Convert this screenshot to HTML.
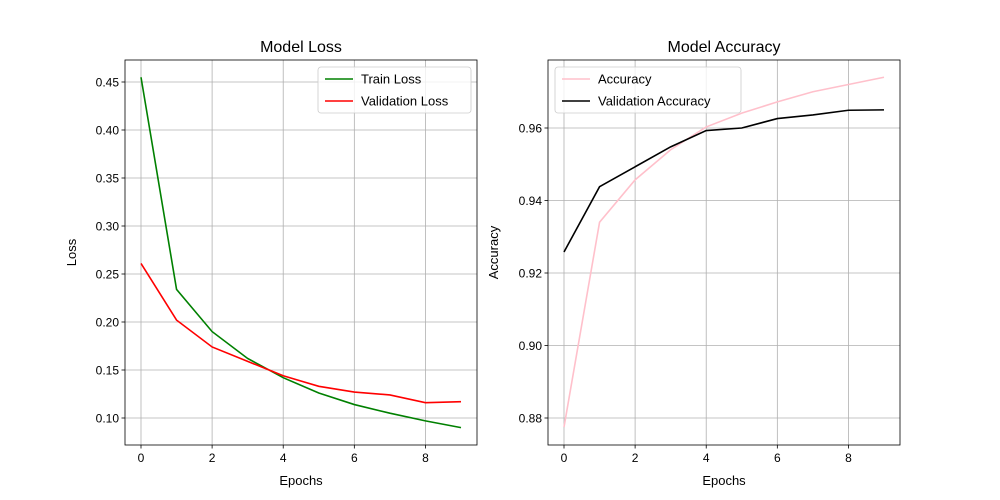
<!DOCTYPE html>
<html><head><meta charset="utf-8"><style>
body{margin:0;background:#fff;}
svg{display:block;font-family:"Liberation Sans","DejaVu Sans",sans-serif;}
</style></head><body>
<svg id="fig" width="1000" height="500" viewBox="0 0 1000 500"></svg>
<script>
const epochs=[0,1,2,3,4,5,6,7,8,9];
const trainLoss=[0.455,0.234,0.190,0.162,0.142,0.126,0.114,0.105,0.097,0.090];
const valLoss=[0.261,0.202,0.174,0.159,0.144,0.133,0.127,0.124,0.116,0.117];
const trainAcc=[0.8775,0.934,0.9457,0.954,0.9603,0.9641,0.9672,0.970,0.972,0.974];
const valAcc=[0.9258,0.9438,0.9493,0.9548,0.9593,0.960,0.9626,0.9636,0.9649,0.965];
const xTicks=[0,2,4,6,8];
const lossTicks=[0.10,0.15,0.20,0.25,0.30,0.35,0.40,0.45];
const accTicks=[0.88,0.90,0.92,0.94,0.96];
const NS="http://www.w3.org/2000/svg";
const svg=document.getElementById('fig');
function mk(tag,attrs,parent){const e=document.createElementNS(NS,tag);for(const k in attrs)e.setAttribute(k,attrs[k]);(parent||svg).appendChild(e);return e;}
function panel(o){
 const g=mk('g',{});
 
 
 const X=v=>o.x0+(v-o.xmin)/(o.xmax-o.xmin)*(o.x1-o.x0);
 const Y=v=>o.y1-(v-o.ymin)/(o.ymax-o.ymin)*(o.y1-o.y0);
 xTicks.forEach(t=>{
  mk('line',{x1:X(t),x2:X(t),y1:o.y0,y2:o.y1,stroke:'#b0b0b0','stroke-width':0.8},g);
  mk('line',{x1:X(t),x2:X(t),y1:o.y1,y2:o.y1+3.5,stroke:'#000','stroke-width':0.8},g);
  const tx=mk('text',{x:X(t),y:o.y1+17,'font-size':12,'text-anchor':'middle'},g);tx.textContent=t;
  
  
 });
 o.yTicks.forEach(t=>{
  mk('line',{x1:o.x0,x2:o.x1,y1:Y(t),y2:Y(t),stroke:'#b0b0b0','stroke-width':0.8},g);
  mk('line',{x1:o.x0-3.5,x2:o.x0,y1:Y(t),y2:Y(t),stroke:'#000','stroke-width':0.8},g);
  const tx=mk('text',{x:o.x0-6,y:Y(t)+4.5,'font-size':12,'text-anchor':'end'},g);tx.textContent=t.toFixed(2);
  
  
 });
 o.series.forEach(s=>{
  const p=mk('polyline',{points:epochs.map((e,i)=>X(e)+','+Y(s.v[i])).join(' '),fill:'none',stroke:s.c,'stroke-width':1.6},g);
  
  
 });
 mk('rect',{x:o.x0,y:o.y0,width:o.x1-o.x0,height:o.y1-o.y0,fill:'none',stroke:'#000','stroke-width':0.8},g);
 const ti=mk('text',{x:(o.x0+o.x1)/2,y:o.y0-8,'font-size':16,'text-anchor':'middle'},g);ti.textContent=o.title;
 
 
 const xl=mk('text',{x:(o.x0+o.x1)/2,y:485,'font-size':13,'text-anchor':'middle'},g);xl.textContent='Epochs';
 
 
 const yl=mk('text',{x:0,y:0,'font-size':13,'text-anchor':'middle',transform:`translate(${o.ylx},${(o.y0+o.y1)/2}) rotate(-90)`},g);yl.textContent=o.ylabel;
 
 
 const lg=mk('g',{},g);
 
 
 mk('rect',{x:o.lx,y:o.y0+7,width:o.lw,height:46,rx:3,fill:'#fff','fill-opacity':0.8,stroke:'#ccc','stroke-width':0.8},lg);
 o.series.forEach((s,i)=>{
  const yy=o.y0+19+i*22;
  mk('line',{x1:o.lx+7,x2:o.lx+35,y1:yy,y2:yy,stroke:s.c,'stroke-width':1.6},lg);
  const t=mk('text',{x:o.lx+43,y:yy+4.5,'font-size':13},lg);t.textContent=s.label;
  
  
 });
}
panel({name:'loss-chart',x0:125,x1:477,y0:60,y1:445,xmin:-0.45,xmax:9.45,ymin:0.10-(445-418)/960,ymax:0.10+(418-60)/960,yTicks:lossTicks,title:'Model Loss',ylabel:'Loss',ylx:76,lx:318,lw:153,
 series:[{id:'train-loss-line',v:trainLoss,c:'green',label:'Train Loss'},{id:'validation-loss-line',v:valLoss,c:'red',label:'Validation Loss'}]});
panel({name:'accuracy-chart',x0:548,x1:900,y0:60,y1:445,xmin:-0.45,xmax:9.45,ymin:0.88-(445-418)/3625,ymax:0.88+(418-60)/3625,yTicks:accTicks,title:'Model Accuracy',ylabel:'Accuracy',ylx:498,lx:555,lw:186,
 series:[{id:'accuracy-line',v:trainAcc,c:'pink',label:'Accuracy'},{id:'validation-accuracy-line',v:valAcc,c:'black',label:'Validation Accuracy'}]});
</script>
</body></html>
